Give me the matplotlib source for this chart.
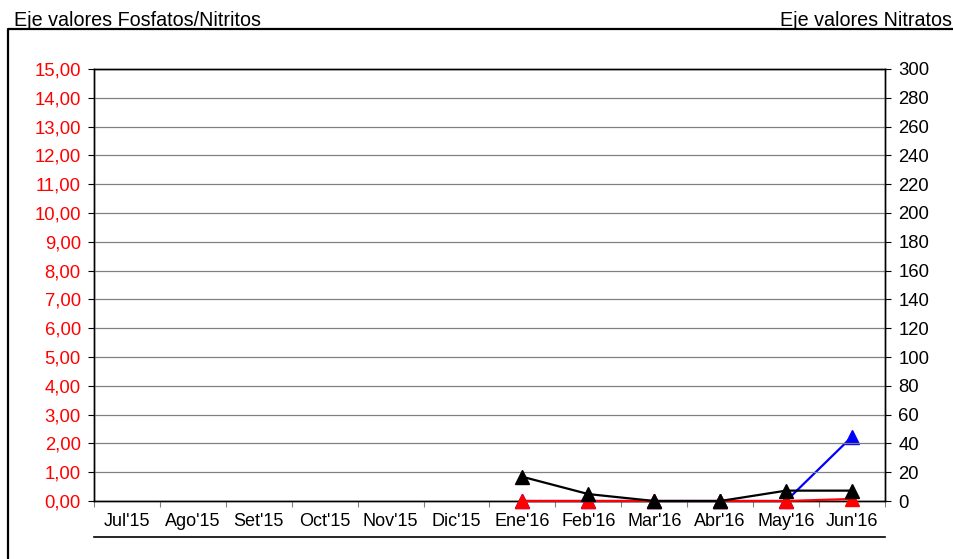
import numpy as np
import matplotlib
matplotlib.use('Agg')
import matplotlib.pyplot as plt
from matplotlib.lines import Line2D
from matplotlib.ticker import FuncFormatter, MultipleLocator, FixedLocator

plt.rcParams['font.family'] = ['Liberation Sans', 'DejaVu Sans']

months = ["Jul'15", "Ago'15", "Set'15", "Oct'15", "Nov'15", "Dic'15",
          "Ene'16", "Feb'16", "Mar'16", "Abr'16", "May'16", "Jun'16"]
fosfatos = [np.nan] * 6 + [0.84, 0.24, 0.0, 0.0, 0.36, 0.36]   # left axis, black
nitritos = [np.nan] * 6 + [0.0, 0.0, 0.0, 0.0, 0.0, 0.07]     # left axis, red
nitratos = [np.nan] * 6 + [0.0, 0.0, 0.0, 0.0, 0.0, 44.7]     # right axis, blue

W, H = 954, 559
fig = plt.figure(figsize=(W / 100, H / 100), dpi=100)
ax = fig.add_axes([94 / W, 1 - 501 / H, (885 - 94) / W, (501 - 69) / H])
ax2 = ax.twinx()
# left axis series drawn above the right axis series
ax.set_zorder(ax2.get_zorder() + 1)
ax.patch.set_visible(False)

x = np.arange(len(months))

ax2.plot(x, nitratos, color='#0000ff', lw=1.6, marker='^', ms=10.5, clip_on=False, zorder=3)
ax.plot(x, nitritos, color='#ff0000', lw=1.6, marker='^', ms=10.5, clip_on=False, zorder=3)
ax.plot(x, fosfatos, color='black', lw=1.6, marker='^', ms=10.5, clip_on=False, zorder=4)

ax.set_xlim(-0.5, len(months) - 0.5)
ax.set_ylim(0, 15)
ax2.set_ylim(0, 300)

ax.yaxis.set_major_locator(MultipleLocator(1))
ax.yaxis.set_major_formatter(FuncFormatter(lambda v, p: f"{v:.2f}".replace('.', ',')))
ax2.yaxis.set_major_locator(MultipleLocator(20))

ax.set_xticks(x)
ax.set_xticklabels(months)
ax.xaxis.set_minor_locator(FixedLocator(np.arange(-0.5, len(months), 1)))
ax.tick_params(axis='x', which='major', length=0, pad=9, labelsize=13)
ax.tick_params(axis='x', which='minor', length=4, width=0.8, direction='out', color='#808080')
ax.tick_params(axis='y', length=4.5, width=0.8, pad=5, labelsize=13.3, labelcolor='#ff0000')
ax2.tick_params(axis='y', length=4.5, width=0.8, pad=5, labelsize=13.3)

ax.grid(axis='y', color='#808080', lw=0.9)
ax.set_axisbelow(True)
for s in ['left', 'bottom', 'right', 'top']:
    ax.spines[s].set_linewidth(1.0)
    ax2.spines[s].set_linewidth(1.0)

# line under the category labels
fig.add_artist(Line2D([94 / W, 885 / W], [1 - 537 / H] * 2, color='black', lw=1.2))
# outer chart border (left and top)
fig.add_artist(Line2D([8 / W, 8 / W, 1.0], [0.0, 1 - 29 / H, 1 - 29 / H], color='black', lw=1.6))

fig.text(14 / W, 1 - 26 / H, 'Eje valores Fosfatos/Nitritos', fontsize=14.2, ha='left', va='baseline')
fig.text(952 / W, 1 - 26 / H, 'Eje valores Nitratos', fontsize=14.2, ha='right', va='baseline')

fig.savefig('out.png', dpi=100)
